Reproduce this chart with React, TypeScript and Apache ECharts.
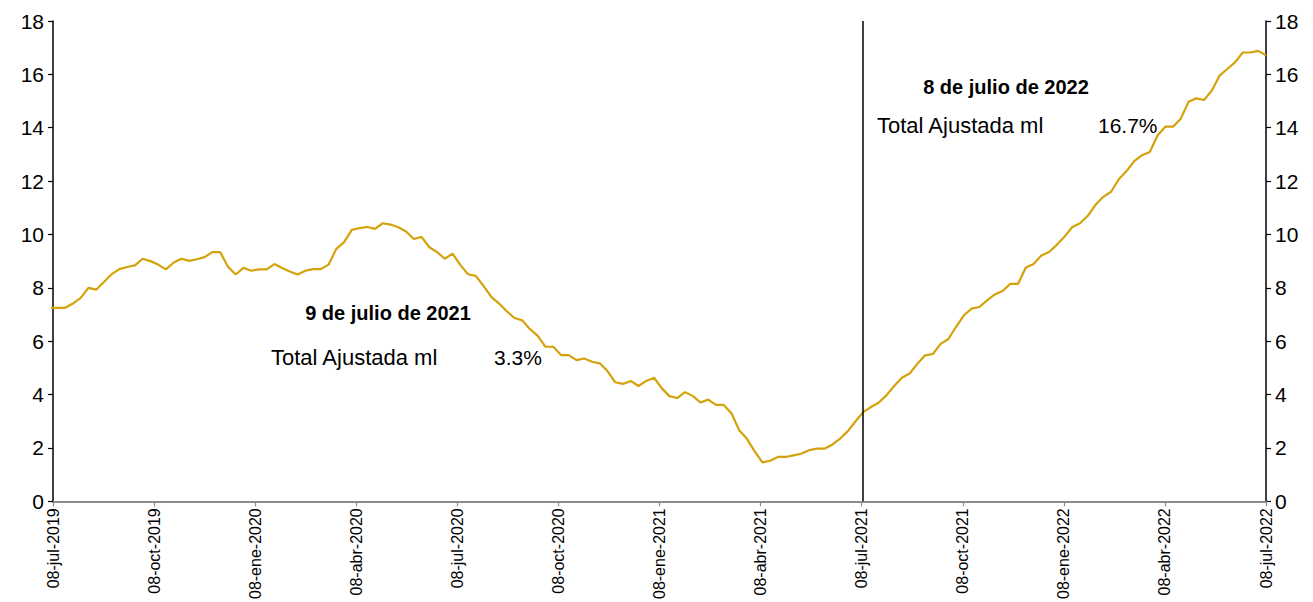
import { useEffect, useRef } from 'react';
import * as echarts from 'echarts';

// Weekly observations (Fridays), first week 2019-07-05, last 2022-07-08
const firstWeek = [2019, 6, 5];
const values = [
  7.25, 7.25, 7.25, 7.41, 7.62, 8.0, 7.93, 8.22, 8.51, 8.7,
  8.78, 8.84, 9.09, 9.0, 8.87, 8.69, 8.95, 9.09, 9.01, 9.07,
  9.15, 9.34, 9.34, 8.8, 8.5, 8.75, 8.64, 8.69, 8.69, 8.89,
  8.74, 8.61, 8.5, 8.64, 8.7, 8.7, 8.87, 9.46, 9.71, 10.17,
  10.24, 10.28, 10.21, 10.42, 10.37, 10.27, 10.11, 9.83, 9.91, 9.52,
  9.34, 9.09, 9.28, 8.86, 8.51, 8.45, 8.07, 7.66, 7.41, 7.12,
  6.87, 6.78, 6.45, 6.2, 5.79, 5.79, 5.48, 5.48, 5.29, 5.35,
  5.23, 5.17, 4.88, 4.46, 4.4, 4.51, 4.32, 4.51, 4.63, 4.24,
  3.94, 3.87, 4.09, 3.95, 3.7, 3.81, 3.61, 3.61, 3.3, 2.66,
  2.34, 1.87, 1.46, 1.52, 1.66, 1.66, 1.72, 1.78, 1.91, 1.97,
  1.97, 2.12, 2.34, 2.62, 2.99, 3.34, 3.53, 3.69, 3.97, 4.32,
  4.63, 4.79, 5.15, 5.47, 5.52, 5.9, 6.08, 6.54, 6.97, 7.22,
  7.28, 7.53, 7.75, 7.88, 8.15, 8.15, 8.76, 8.89, 9.21, 9.34,
  9.61, 9.92, 10.28, 10.42, 10.7, 11.11, 11.41, 11.6, 12.07, 12.38,
  12.75, 12.97, 13.09, 13.71, 14.04, 14.04, 14.34, 14.97, 15.1, 15.04,
  15.39, 15.95, 16.2, 16.45, 16.82, 16.82, 16.88, 16.71,
];

const tickLabels = [
  '08-jul-2019', '08-oct-2019', '08-ene-2020', '08-abr-2020', '08-jul-2020',
  '08-oct-2020', '08-ene-2021', '08-abr-2021', '08-jul-2021', '08-oct-2021',
  '08-ene-2022', '08-abr-2022', '08-jul-2022',
];
const axisStart = [2019, 6, 8];
const axisEnd = [2022, 6, 8];
const markerDay = [2021, 6, 9];

const note1Title = '9 de julio de 2021';
const note1Label = 'Total Ajustada ml';
const note1Value = '3.3%';
const note2Title = '8 de julio de 2022';
const note2Label = 'Total Ajustada ml';
const note2Value = '16.7%';

const yMin = 0;
const yMax = 18;
const yStep = 2;

const DAY = 86400000;
const ts = (d: number[]) => Date.UTC(d[0], d[1], d[2]);

const FONT = "'Liberation Sans', Arial, sans-serif";
const LINE = '#D4A20A';

export default function App() {
  const ref = useRef<HTMLDivElement>(null);

  useEffect(() => {
    if (!ref.current) return;
    const chart = echarts.init(ref.current, undefined, { renderer: 'svg' });
    const start = ts(firstWeek);
    const seriesData = values.map((v, i) => [start + i * 7 * DAY, v]);

    const yAxisBase = {
      type: 'value',
      min: yMin,
      max: yMax,
      interval: yStep,
      axisLine: { show: true, lineStyle: { color: '#000', width: 1.5 } },
      axisTick: { show: true, length: 5, lineStyle: { color: '#000', width: 1.2 } },
      axisLabel: { color: '#000', fontSize: 21, fontFamily: FONT, margin: 9 },
      splitLine: { show: false },
    };

    chart.setOption({
      animation: false,
      backgroundColor: '#fff',
      grid: { left: 53, right: 47, top: 21, bottom: 98.5, containLabel: false },
      xAxis: [
        {
          type: 'time',
          position: 'top',
          min: ts(axisStart),
          max: ts(axisEnd),
          axisLine: { show: true, lineStyle: { color: '#000', width: 1.5 } },
          axisTick: { show: false },
          axisLabel: { show: false },
          splitLine: { show: false },
        },
        {
          type: 'category',
          position: 'bottom',
          data: tickLabels,
          boundaryGap: false,
          axisLine: { show: true, lineStyle: { color: '#8c8c8c', width: 2 } },
          axisTick: { show: true, interval: 0, length: 5, lineStyle: { color: '#8c8c8c', width: 1.2 } },
          axisLabel: {
            interval: 0,
            rotate: 90,
            color: '#000',
            fontSize: 16,
            fontFamily: FONT,
            margin: 7,
          },
          splitLine: { show: false },
        },
      ],
      yAxis: [
        { ...yAxisBase, position: 'left' },
        { ...yAxisBase, position: 'right' },
      ],
      series: [
        {
          type: 'line',
          xAxisIndex: 0,
          yAxisIndex: 0,
          data: seriesData,
          showSymbol: false,
          symbol: 'none',
          clip: true,
          lineStyle: { color: LINE, width: 2.2 },
          markLine: {
            silent: true,
            symbol: ['none', 'none'],
            label: { show: false },
            lineStyle: { color: '#000', width: 1.5, type: 'solid' },
            data: [{ xAxis: ts(markerDay) }],
          },
        },
      ],
      graphic: [
        {
          type: 'text', x: 388, y: 313,
          style: { text: note1Title, fontSize: 20, fontWeight: 'bold', fontFamily: FONT, fill: '#000', textAlign: 'center', textVerticalAlign: 'middle' },
        },
        {
          type: 'text', x: 271, y: 357,
          style: { text: note1Label, fontSize: 22, fontFamily: FONT, fill: '#000', textAlign: 'left', textVerticalAlign: 'middle' },
        },
        {
          type: 'text', x: 494, y: 357,
          style: { text: note1Value, fontSize: 21, fontFamily: FONT, fill: '#000', textAlign: 'left', textVerticalAlign: 'middle' },
        },
        {
          type: 'text', x: 1006, y: 87,
          style: { text: note2Title, fontSize: 20, fontWeight: 'bold', fontFamily: FONT, fill: '#000', textAlign: 'center', textVerticalAlign: 'middle' },
        },
        {
          type: 'text', x: 877, y: 125,
          style: { text: note2Label, fontSize: 22, fontFamily: FONT, fill: '#000', textAlign: 'left', textVerticalAlign: 'middle' },
        },
        {
          type: 'text', x: 1098, y: 125,
          style: { text: note2Value, fontSize: 21, fontFamily: FONT, fill: '#000', textAlign: 'left', textVerticalAlign: 'middle' },
        },
      ],
    });

    return () => chart.dispose();
  }, []);

  return (
    <div
      ref={ref}
      style={{ position: 'fixed', left: 0, top: 0, width: 1313, height: 602, background: '#fff' }}
    />
  );
}
